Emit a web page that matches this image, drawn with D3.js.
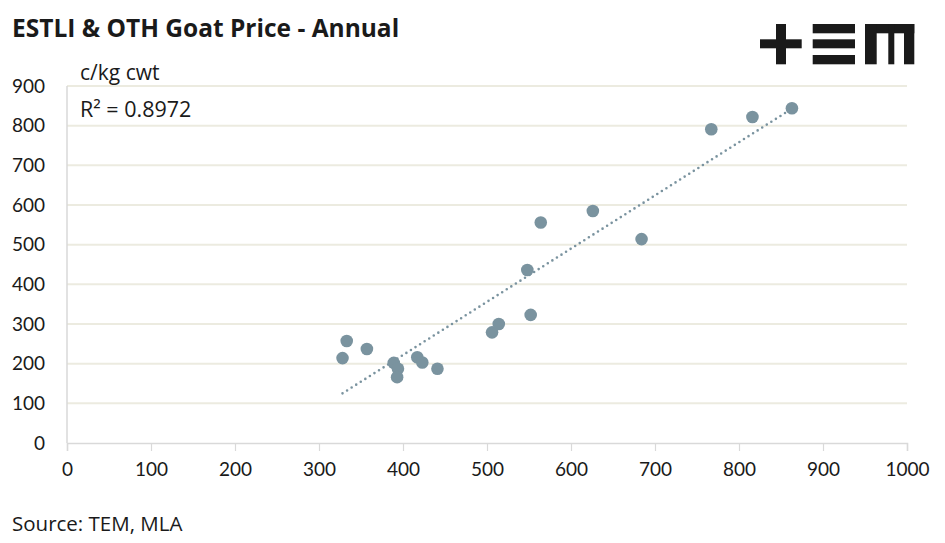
<!DOCTYPE html>
<html><head><meta charset="utf-8">
<script src="https://cdn.jsdelivr.net/npm/d3@7"></script>
<style>body{margin:0;background:#fff;} svg{display:block;}</style>
</head><body>
<svg id="c" width="945" height="543"></svg>
<script>
const estli = [328, 333, 357, 389, 394, 393, 417, 423, 441, 506, 514, 548, 552, 564, 626, 684, 767, 816, 863];
const oth   = [214, 257, 237, 202, 187, 166, 216, 203, 187, 279, 300, 436, 323, 556, 585, 514, 791, 822, 844];
const xTicks = [0,100,200,300,400,500,600,700,800,900,1000];
const yTicks = [0,100,200,300,400,500,600,700,800,900];
const title = "ESTLI & OTH Goat Price - Annual";
const yUnit = "c/kg cwt";
const r2Label = "R² = 0.8972";
const source = "Source: TEM, MLA";

const svg = d3.select("#c");
const font = "Lato, 'Open Sans', sans-serif";
const font2 = "'Open Sans', Lato, sans-serif";
const x = d3.scaleLinear().domain([0,1000]).range([67,907]);
const y = d3.scaleLinear().domain([0,900]).range([443,86]);

// gridlines
svg.append("g").selectAll("line").data(yTicks.filter(d=>d>0)).join("line")
  .attr("x1",x(0)).attr("x2",x(1000)).attr("y1",d=>y(d)).attr("y2",d=>y(d))
  .attr("stroke","#ecebe0").attr("stroke-width",2);

// y axis line
svg.append("line").attr("x1",x(0)).attr("x2",x(0)).attr("y1",y(0)).attr("y2",y(900))
  .attr("stroke","#d9d9d9").attr("stroke-width",1.5);

// x axis
const xa = svg.append("g").attr("transform",`translate(0,${y(0)})`)
  .call(d3.axisBottom(x).tickValues(xTicks).tickSize(8).tickPadding(12).tickFormat(d3.format("d")));
xa.select(".domain").attr("stroke","#d9d9d9").attr("stroke-width",1.5);
xa.selectAll(".tick line").attr("stroke","#d9d9d9").attr("stroke-width",1.2);
xa.selectAll("text").attr("font-family",font).attr("font-size",19).attr("fill","#1a1a1a");

// y axis labels
const ya = svg.append("g").attr("transform",`translate(${x(0)},0)`)
  .call(d3.axisLeft(y).tickValues(yTicks).tickSize(0).tickPadding(22).tickFormat(d3.format("d")));
ya.select(".domain").remove();
ya.selectAll("text").attr("font-family",font).attr("font-size",19).attr("fill","#1a1a1a");

// trendline (least squares)
const n = estli.length;
const mx = d3.mean(estli), my = d3.mean(oth);
let sxy=0, sxx=0;
for(let i=0;i<n;i++){sxy+=(estli[i]-mx)*(oth[i]-my); sxx+=(estli[i]-mx)**2;}
const slope = sxy/sxx, icpt = my - slope*mx;
const x0 = d3.min(estli), x1 = d3.max(estli);
svg.append("line").attr("x1",x(x0)).attr("y1",y(icpt+slope*x0))
  .attr("x2",x(x1)).attr("y2",y(icpt+slope*x1))
  .attr("stroke","#7a939f").attr("stroke-width",2.6)
  .attr("stroke-dasharray","0 5.4").attr("stroke-linecap","round");

// points
svg.append("g").selectAll("circle").data(d3.range(n)).join("circle")
  .attr("cx",i=>x(estli[i])).attr("cy",i=>y(oth[i])).attr("r",6.3)
  .attr("fill","#7a939f");

// texts
svg.append("text").attr("x",12).attr("y",37).text(title)
  .attr("font-family",font2).attr("font-weight","bold").attr("font-size",24.5).attr("fill","#1a1a1a");
svg.append("text").attr("x",80).attr("y",80).text(yUnit)
  .attr("font-family",font2).attr("font-size",21).attr("fill","#1a1a1a");
svg.append("text").attr("x",80).attr("y",117).text(r2Label)
  .attr("font-family",font2).attr("font-size",21.5).attr("fill","#1a1a1a");
svg.append("text").attr("x",12).attr("y",531).text(source)
  .attr("font-family",font2).attr("font-size",20.5).attr("fill","#1a1a1a");

// logo
const logo = [
  [760,39.3,41.7,9],[776,24,10,40.3],
  [812.7,24,42.3,9.3],[812.7,39.3,42.3,9],[812.7,55,42.3,9.3],
  [865,24,49.3,9.3],[865,24,11.7,40.3],[888.3,24,6,40.3],[904,24,10.3,40.3]
];
svg.append("g").selectAll("rect").data(logo).join("rect")
  .attr("x",d=>d[0]).attr("y",d=>d[1]).attr("width",d=>d[2]).attr("height",d=>d[3])
  .attr("fill","#1a1a1a");
</script>
</body></html>
